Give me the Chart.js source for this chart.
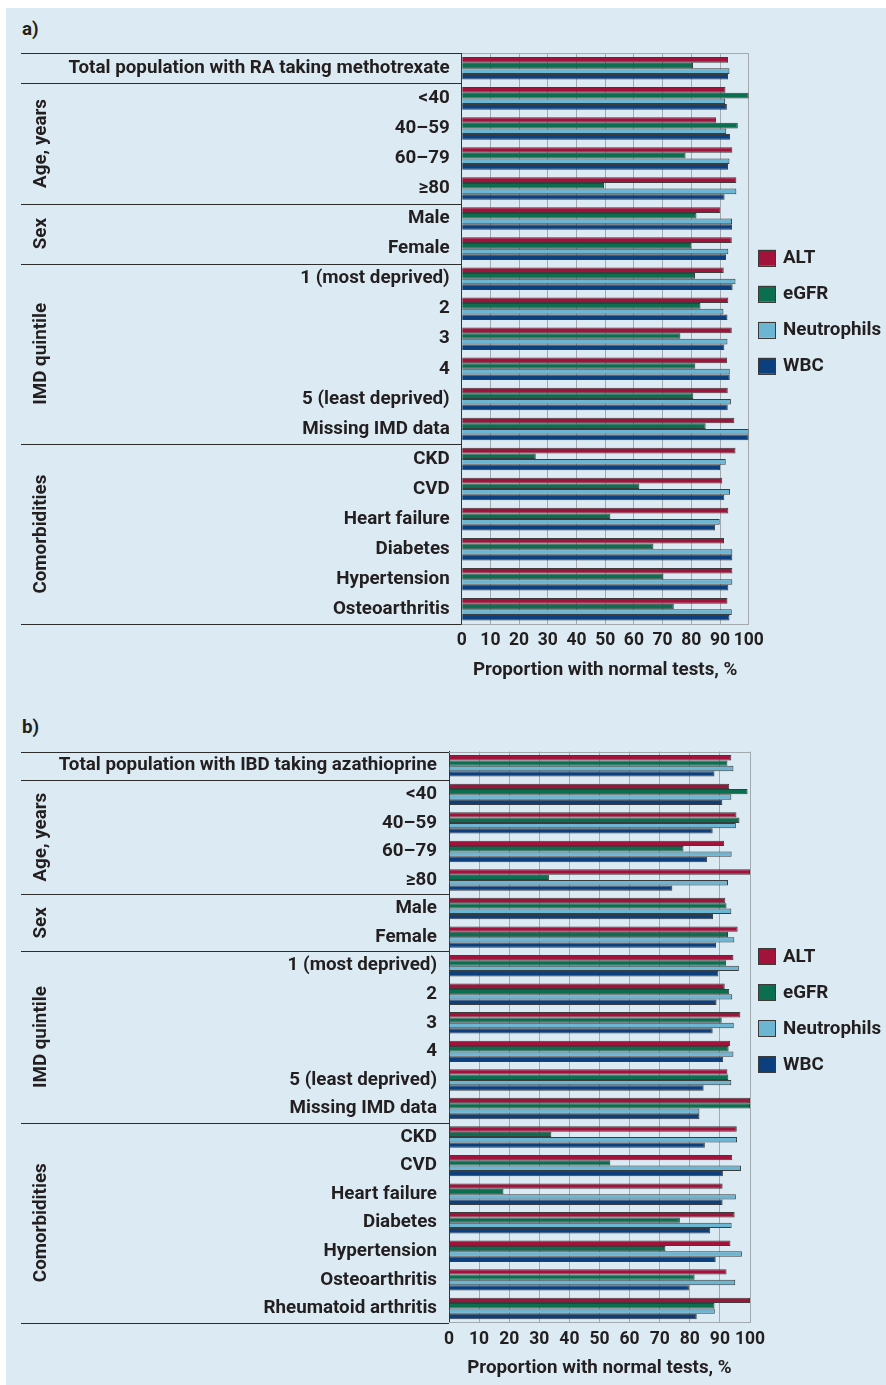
<!DOCTYPE html>
<html>
<head>
<meta charset="utf-8">
<script src="https://cdn.jsdelivr.net/npm/chart.js@4"></script>
<style>
  body { margin: 0; background: #fff; width: 886px; height: 1385px; position: relative; overflow: hidden; }
  #panel { position: absolute; left: 6px; top: 8px; width: 880px; height: 1377px; background: #dcebf3; }
  .box { position: absolute; left: 0; width: 886px; }
  .tag { position: absolute; left: 22px; font: bold 18.8px Roboto, sans-serif; color: #231f20; }
</style>
</head>
<body>
<div id="panel"></div>
<div class="tag" style="top:18px">a)</div>
<div class="tag" style="top:716px">b)</div>
<div class="box" style="top:0;height:700px"><canvas id="chartA"></canvas></div>
<div class="box" style="top:690px;height:695px"><canvas id="chartB"></canvas></div>

<script>
var seriesNames = ['ALT', 'eGFR', 'Neutrophils', 'WBC'];
var seriesColors = ['#a3123b', '#0b6e4f', '#6cb6d4', '#0c3f7e'];
var xTicks = [0, 10, 20, 30, 40, 50, 60, 70, 80, 90, 100];
var xTitle = 'Proportion with normal tests, %';

// panel a: RA, methotrexate
var labelsA = ['Total population with RA taking methotrexate', '<40', '40–59', '60–79', '≥80', 'Male', 'Female',
  '1 (most deprived)', '2', '3', '4', '5 (least deprived)', 'Missing IMD data',
  'CKD', 'CVD', 'Heart failure', 'Diabetes', 'Hypertension', 'Osteoarthritis'];
var altA  = [92.8, 91.9, 88.6, 94.3, 95.7, 90.1, 94.1, 91.3, 92.9, 94.1, 92.5, 92.7, 95.0, 95.4, 90.8, 92.9, 91.4, 94.3, 92.6];
var egfrA = [80.6, 100, 96.2, 78.0, 49.6, 81.8, 80.0, 81.3, 83.2, 76.2, 81.4, 80.7, 85.0, 25.8, 61.9, 51.8, 66.8, 70.3, 73.9];
var neutA = [93.3, 91.8, 92.2, 93.3, 95.7, 94.2, 92.9, 95.4, 91.2, 92.6, 93.4, 93.8, 100, 92.0, 93.5, 89.9, 94.3, 94.3, 94.1];
var wbcA  = [92.8, 92.4, 93.5, 92.8, 91.6, 94.2, 92.1, 94.4, 92.6, 91.5, 93.4, 92.7, 100, 90.0, 91.5, 88.3, 94.3, 92.9, 93.3];
var groupsA = [['', 1], ['Age, years', 4], ['Sex', 2], ['IMD quintile', 6], ['Comorbidities', 6]];

// panel b: IBD, azathioprine
var labelsB = ['Total population with IBD taking azathioprine', '<40', '40–59', '60–79', '≥80', 'Male', 'Female',
  '1 (most deprived)', '2', '3', '4', '5 (least deprived)', 'Missing IMD data',
  'CKD', 'CVD', 'Heart failure', 'Diabetes', 'Hypertension', 'Osteoarthritis', 'Rheumatoid arthritis'];
var altB  = [93.8, 93.1, 95.5, 91.4, 100, 91.8, 95.9, 94.5, 91.6, 96.8, 93.4, 92.5, 100, 95.6, 94.1, 90.9, 94.9, 93.5, 92.2, 100];
var egfrB = [92.5, 99.2, 96.5, 77.9, 33.2, 92.2, 92.7, 92.1, 93.1, 90.6, 92.9, 92.8, 100, 34.0, 53.6, 18.1, 76.7, 71.9, 81.6, 88.2];
var neutB = [94.5, 93.8, 95.3, 93.9, 92.7, 93.8, 94.8, 96.3, 94.1, 94.6, 94.5, 93.8, 83.2, 95.7, 97.0, 95.3, 93.9, 97.3, 95.1, 88.3];
var wbcB  = [88.2, 90.8, 87.6, 85.7, 74.2, 87.7, 88.7, 89.5, 88.9, 87.6, 91.1, 84.6, 83.2, 85.0, 91.0, 90.9, 86.8, 88.6, 79.7, 82.3];
var groupsB = [['', 1], ['Age, years', 4], ['Sex', 2], ['IMD quintile', 6], ['Comorbidities', 7]];

var LABEL_FONT = 'Roboto, sans-serif';
var LABEL_SIZE = 18.8;
var TEXT = '#231f20';
var GRID = '#a2a9af';

// group labels, separator lines and legend drawn on top of the chart
function sidePlugin(groups) {
  return {
    id: 'side',
    afterDraw: function (chart) {
      var ctx = chart.ctx, y = chart.scales.y, a = chart.chartArea;
      var half = (y.getPixelForValue(1) - y.getPixelForValue(0)) / 2;
      ctx.save();
      ctx.lineWidth = 1;
      // plot top border
      ctx.strokeStyle = GRID;
      ctx.beginPath();
      ctx.moveTo(a.left, Math.round(a.top) + 0.5);
      ctx.lineTo(a.right, Math.round(a.top) + 0.5);
      ctx.stroke();

      ctx.strokeStyle = '#2d2d2d';
      ctx.fillStyle = TEXT;
      ctx.font = 'bold ' + LABEL_SIZE + 'px ' + LABEL_FONT;
      var start = 0;
      groups.forEach(function (g) {
        var top = y.getPixelForValue(start) - half;
        var bot = y.getPixelForValue(start + g[1] - 1) + half;
        ctx.beginPath();
        ctx.moveTo(21, Math.round(top) + 0.5);
        ctx.lineTo(a.left, Math.round(top) + 0.5);
        ctx.stroke();
        if (g[0]) {
          ctx.save();
          ctx.translate(41, (top + bot) / 2);
          ctx.rotate(-Math.PI / 2);
          ctx.textAlign = 'center';
          ctx.textBaseline = 'middle';
          ctx.fillText(g[0], 0, 0);
          ctx.restore();
        }
        start += g[1];
      });
      ctx.beginPath();
      ctx.moveTo(21, Math.round(a.bottom) + 0.5);
      ctx.lineTo(a.left, Math.round(a.bottom) + 0.5);
      ctx.stroke();

      // legend
      var cy = (a.top + a.bottom) / 2 - 27;
      chart.data.datasets.forEach(function (ds, i) {
        var ly = cy + (i - 1.5) * 36;
        ctx.fillStyle = ds.backgroundColor;
        ctx.fillRect(758, ly - 8, 18, 16);
        ctx.strokeStyle = '#3a3a3a';
        ctx.strokeRect(758.5, Math.round(ly - 8) + 0.5, 17, 16);
        ctx.fillStyle = TEXT;
        ctx.textAlign = 'left';
        ctx.textBaseline = 'middle';
        ctx.fillText(ds.label, 783, ly + 1);
      });
      ctx.restore();
    }
  };
}

function makeChart(id, labels, values, groups, area, H, titleY) {
  var canvas = document.getElementById(id);
  return new Chart(canvas, {
    type: 'bar',
    data: {
      labels: labels,
      datasets: seriesNames.map(function (name, i) {
        return {
          label: name,
          data: values[i],
          backgroundColor: seriesColors[i],
          borderColor: '#3c3c3c',
          borderWidth: 1,
          categoryPercentage: 0.75,
          barPercentage: 1
        };
      })
    },
    options: {
      indexAxis: 'y',
      responsive: true,
      maintainAspectRatio: false,
      animation: false,
      layout: { padding: { left: 0, top: area.top, right: 886 - area.right, bottom: 0 } },
      plugins: { legend: { display: false }, tooltip: { enabled: false } },
      scales: {
        y: {
          grid: { display: false, drawTicks: false },
          border: { color: '#333', width: 1 },
          ticks: { color: TEXT, font: { family: LABEL_FONT, size: LABEL_SIZE, weight: 'bold' }, padding: 12, autoSkip: false },
          afterFit: function (s) { s.width = area.left; }
        },
        x: {
          min: 0, max: 100,
          afterBuildTicks: function (s) { s.ticks = xTicks.map(function (v) { return { value: v }; }); },
          grid: { color: GRID, drawTicks: false },
          border: { color: GRID },
          ticks: { color: TEXT, font: { family: 'Roboto', size: 17.5, weight: 'bold' }, padding: 6, autoSkip: false, maxRotation: 0 },
          title: {
            display: true, text: xTitle, color: TEXT,
            font: { family: LABEL_FONT, size: LABEL_SIZE, weight: 'bold' },
            padding: { top: 0, bottom: H - titleY - LABEL_SIZE * 0.6 }
          },
          afterFit: function (s) { s.height = H - area.bottom; }
        }
      }
    },
    plugins: [sidePlugin(groups)]
  });
}

makeChart('chartA', labelsA, [altA, egfrA, neutA, wbcA], groupsA,
  { left: 461.7, right: 748.7, top: 53.3, bottom: 624.3 }, 700, 670.7);
makeChart('chartB', labelsB, [altB, egfrB, neutB, wbcB], groupsB,
  { left: 449, right: 750, top: 61.5, bottom: 632.7 }, 695, 678);
</script>
</body>
</html>
